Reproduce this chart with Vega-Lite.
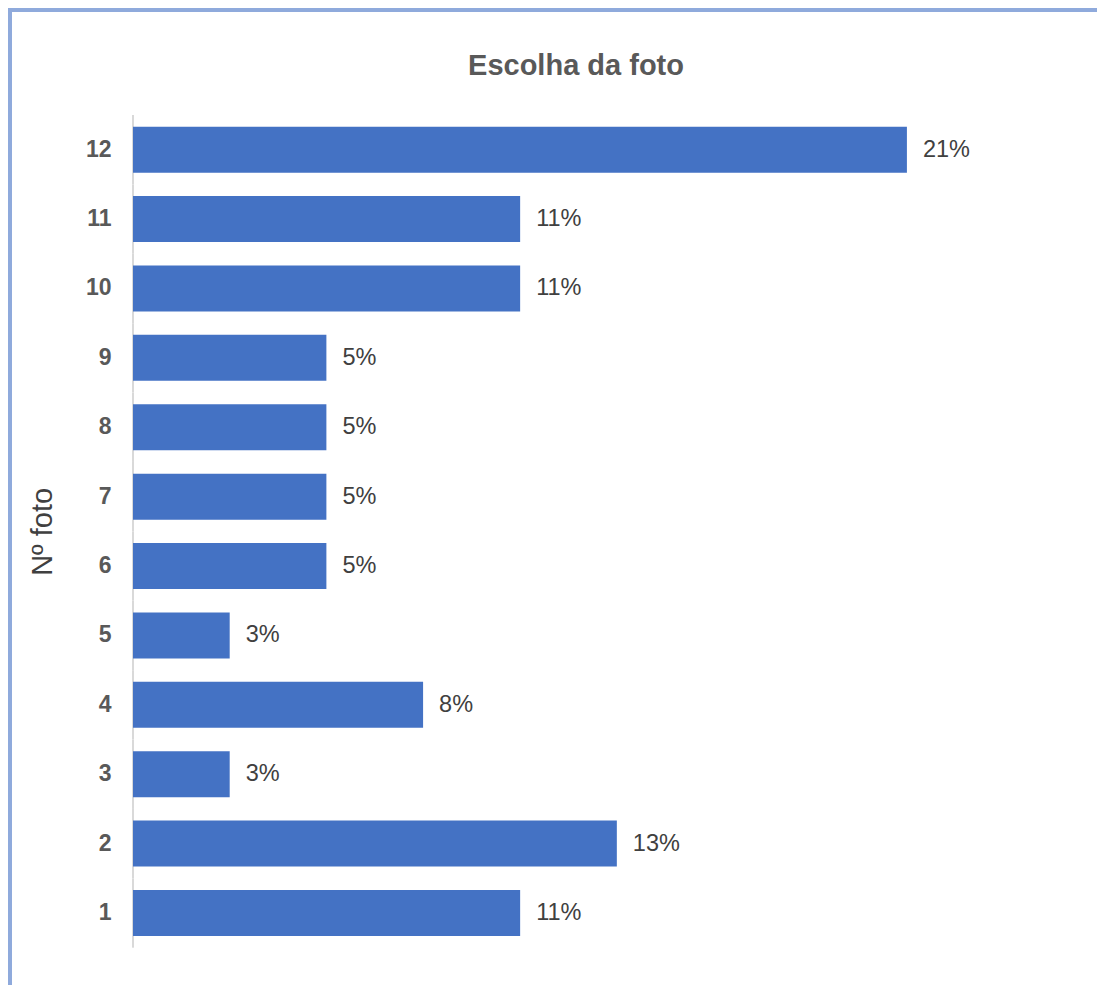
{
  "$schema": "https://vega.github.io/schema/vega-lite/v6.json",
  "autosize": "none",
  "padding": {"left": 10, "top": 10, "right": 0, "bottom": 0},
  "width": 1132,
  "height": 990,
  "background": "white",
  "view": {"stroke": "#8FAADC", "strokeWidth": 4, "fill": "white"},
  "title": {
    "text": "Escolha da foto",
    "font": "Liberation Sans",
    "fontSize": 29,
    "fontWeight": "bold",
    "color": "#595959",
    "anchor": "middle",
    "baseline": "alphabetic",
    "offset": -94
  },
  "data": {
    "values": [
      {"foto": 12, "pct": 0.2105},
      {"foto": 11, "pct": 0.1053},
      {"foto": 10, "pct": 0.1053},
      {"foto": 9, "pct": 0.0526},
      {"foto": 8, "pct": 0.0526},
      {"foto": 7, "pct": 0.0526},
      {"foto": 6, "pct": 0.0526},
      {"foto": 5, "pct": 0.0263},
      {"foto": 4, "pct": 0.0789},
      {"foto": 3, "pct": 0.0263},
      {"foto": 2, "pct": 0.1316},
      {"foto": 1, "pct": 0.1053}
    ]
  },
  "encoding": {
    "y": {
      "field": "foto",
      "type": "ordinal",
      "sort": "descending",
      "scale": {"range": [105, 937.7], "paddingInner": 0.337, "paddingOuter": 0.1685},
      "axis": {
        "title": "Nº foto",
        "offset": -123,
        "domain": false,
        "ticks": false,
        "grid": false,
        "labelPadding": 22,
        "labelFont": "Liberation Sans",
        "labelFontSize": 23,
        "labelFontWeight": "bold",
        "labelColor": "#595959",
        "titleFont": "Liberation Sans",
        "titleFontSize": 29,
        "titleFontWeight": "normal",
        "titleColor": "#404040",
        "titlePadding": 28
      }
    }
  },
  "layer": [
    {
      "mark": {"type": "rule", "color": "#D9D9D9", "strokeWidth": 2},
      "encoding": {
        "x": {"datum": 0, "type": "quantitative", "scale": {"domain": [-0.033456, 0.274441], "nice": false, "zero": false}, "axis": null},
        "y": {"field": "foto", "type": "ordinal", "sort": "descending", "bandPosition": -0.254},
        "y2": {"field": "foto", "bandPosition": 1.254}
      }
    },
    {
      "mark": {"type": "bar", "color": "#4472C4"},
      "encoding": {
        "x": {"field": "pct", "type": "quantitative"}
      }
    },
    {
      "mark": {"type": "text", "align": "left", "baseline": "middle", "dx": 16, "font": "Liberation Sans", "fontSize": 23.5, "color": "#404040"},
      "encoding": {
        "x": {"field": "pct", "type": "quantitative"},
        "text": {"field": "pct", "type": "quantitative", "format": ".0%"}
      }
    }
  ]
}
